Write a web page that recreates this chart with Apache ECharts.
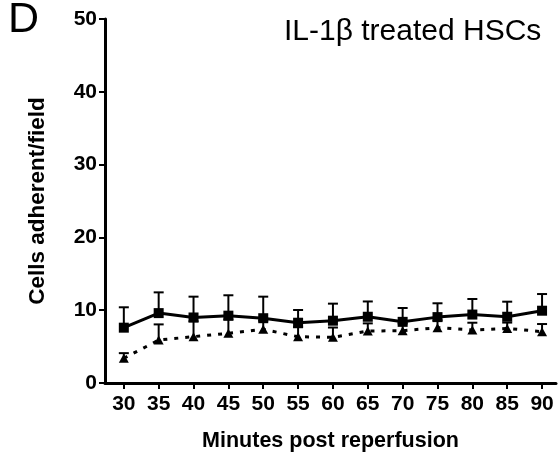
<!DOCTYPE html>
<html>
<head>
<meta charset="utf-8">
<script src="https://cdn.jsdelivr.net/npm/echarts@6/dist/echarts.min.js"></script>
<style>
html, body { margin: 0; padding: 0; background: #fff; }
#chart { width: 558px; height: 458px; }
</style>
</head>
<body>
<div id="chart"></div>
<script>
// minutes post reperfusion
var minutes = [30, 35, 40, 45, 50, 55, 60, 65, 70, 75, 80, 85, 90];
// squares, solid line
var squareMean = [7.6, 9.6, 9.0, 9.25, 8.9, 8.28, 8.56, 9.1, 8.4, 9.05, 9.4, 9.1, 9.93];
var squareSem = [2.8, 2.85, 2.86, 2.8, 2.96, 1.75, 2.34, 2.1, 1.9, 1.9, 2.14, 2.07, 2.29];
// triangles, dotted line
var triMean = [3.4, 5.9, 6.37, 6.82, 7.37, 6.36, 6.27, 7.14, 7.18, 7.6, 7.28, 7.5, 7.05];
var triSem = [0.7, 2.15, 2.1, 1.9, 1.2, 1.3, 1.35, 1.05, 1.0, 1.0, 1.0, 0.8, 1.05];
var yTicks = [0, 10, 20, 30, 40, 50];

var FONT = '"Liberation Sans", Arial, sans-serif';

var chart = echarts.init(document.getElementById('chart'));

function pairs(mean) {
    return minutes.map(function (m, i) { return [m, mean[i]]; });
}
function errData(mean, sem) {
    return minutes.map(function (m, i) { return [m, mean[i] + sem[i], mean[i]]; });
}
// only the upper half of the error bar is drawn
function renderErr(params, api) {
    var top = api.coord([api.value(0), api.value(1)]);
    var bot = api.coord([api.value(0), api.value(2)]);
    return {
        type: 'group',
        children: [{
            type: 'line',
            shape: { x1: top[0], y1: top[1], x2: bot[0], y2: bot[1] },
            style: { stroke: '#000', lineWidth: 2 }
        }, {
            type: 'line',
            shape: { x1: top[0] - 5, y1: top[1], x2: top[0] + 5, y2: top[1] },
            style: { stroke: '#000', lineWidth: 2 }
        }]
    };
}

var option = {
    animation: false,
    grid: { left: 105, right: 2, top: 19, bottom: 75 },
    graphic: [{
        type: 'text', left: 8, top: -1,
        style: { text: 'D', font: '43px ' + FONT, fill: '#000' }
    }, {
        type: 'text', left: 284, top: 17,
        style: { text: 'IL-1β treated HSCs', font: '30px ' + FONT, fill: '#000' }
    }],
    xAxis: {
        type: 'value',
        min: 27.3,
        max: 92,
        name: 'Minutes post reperfusion',
        nameLocation: 'middle',
        nameGap: 47,
        nameTextStyle: { color: '#000', fontSize: 21.5, fontWeight: 'bold', fontFamily: FONT },
        splitLine: { show: false },
        axisLine: { onZero: false, lineStyle: { color: '#000', width: 3 } },
        axisTick: { customValues: minutes, length: 6, lineStyle: { color: '#000', width: 2 } },
        axisLabel: { customValues: minutes, color: '#000', fontSize: 21, fontWeight: 'bold', fontFamily: FONT, margin: 11 }
    },
    yAxis: {
        type: 'value',
        min: 0,
        max: 50,
        interval: 10,
        name: 'Cells adherent/field',
        nameLocation: 'middle',
        nameGap: 56,
        nameTextStyle: { color: '#000', fontSize: 22.5, fontWeight: 'bold', fontFamily: FONT },
        splitLine: { show: false },
        axisLine: { show: true, lineStyle: { color: '#000', width: 3 } },
        axisTick: { show: true, customValues: yTicks, length: 6, lineStyle: { color: '#000', width: 2 } },
        axisLabel: { customValues: yTicks, color: '#000', fontSize: 21, fontWeight: 'bold', fontFamily: FONT, margin: 8 }
    },
    series: [{
        type: 'custom',
        renderItem: renderErr,
        data: errData(triMean, triSem),
        z: 1
    }, {
        type: 'line',
        data: pairs(triMean),
        symbol: 'triangle',
        symbolSize: [10, 9],
        itemStyle: { color: '#000' },
        lineStyle: { color: '#000', width: 3, type: [4, 7] },
        z: 2
    }, {
        type: 'custom',
        renderItem: renderErr,
        data: errData(squareMean, squareSem),
        z: 3
    }, {
        type: 'line',
        data: pairs(squareMean),
        symbol: 'rect',
        symbolSize: 10,
        itemStyle: { color: '#000' },
        lineStyle: { color: '#000', width: 3 },
        z: 4
    }]
};

chart.setOption(option);
</script>
</body>
</html>
